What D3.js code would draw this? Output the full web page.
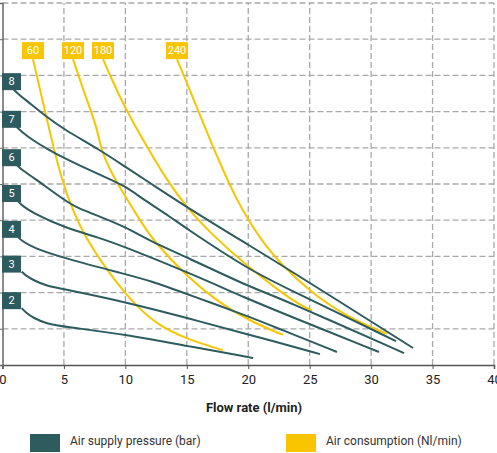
<!DOCTYPE html>
<html>
<head>
<meta charset="utf-8">
<script src="https://cdn.jsdelivr.net/npm/d3@7/dist/d3.min.js"></script>
<style>
  html, body { margin: 0; padding: 0; background: #fff; }
  svg { display: block; font-family: Roboto, "Liberation Sans", Arial, sans-serif; }
</style>
</head>
<body>
<svg id="chart" width="497" height="453"></svg>
<script>
// ---- Data ----
const xTicks = [0, 5, 10, 15, 20, 25, 30, 35, 40];
const yGrid = [1, 2, 3, 4, 5, 6, 7, 8, 9, 10];

const pressureLabels = ["2", "3", "4", "5", "6", "7", "8"];
const pressure2 = [[1.56,1.57],[1.9,1.45],[2.51,1.30],[3.6,1.14],[4.95,1.06],[10.38,0.83],[15.01,0.52],[20.14,0.22],[20.39,0.19]];
const pressure3 = [[1.56,2.58],[1.9,2.47],[2.48,2.35],[3.6,2.18],[4.92,2.10],[10.38,1.71],[15.01,1.30],[20.14,0.83],[22.58,0.61],[25.84,0.30]];
const pressure4 = [[1.26,3.54],[1.6,3.42],[2.51,3.24],[4.92,2.96],[9.97,2.51],[12.0,2.33],[15.01,1.96],[20.14,1.33],[22.58,0.99],[27.22,0.36]];
const pressure5 = [[1.26,4.53],[1.6,4.40],[2.48,4.2],[4.92,3.81],[7.93,3.51],[9.97,3.26],[15.01,2.57],[20.14,1.8],[22.58,1.46],[30.64,0.36]];
const pressure6 = [[1.18,5.52],[1.6,5.38],[2.48,5.19],[4.92,4.58],[6.06,4.34],[7.93,4.10],[9.97,3.82],[12.0,3.42],[14.99,2.98],[20.14,2.15],[22.58,1.85],[32.68,0.33]];
const pressure7 = [[1.15,6.58],[1.6,6.43],[2.51,6.20],[3.6,5.98],[4.95,5.72],[7.93,5.25],[9.97,4.95],[11.43,4.58],[13.63,4.1],[15.0,3.76],[20.14,2.62],[22.58,2.21],[32.02,0.66]];
const pressure8 = [[0.88,7.62],[1.3,7.48],[1.97,7.30],[3.6,6.85],[4.95,6.52],[7.93,5.94],[9.97,5.48],[12.0,5.03],[14.99,4.36],[20.14,3.29],[22.58,2.79],[33.41,0.47]];

const consumptionLabels = ["60", "120", "180", "240"];
const consumption60 = [[2.48,8.45],[3.05,7.62],[3.60,6.80],[4.27,5.85],[4.92,5.03],[5.74,4.25],[6.71,3.55],[8.50,2.62],[9.97,1.99],[10.95,1.62],[12.57,1.12],[14.98,0.72],[17.46,0.46],[17.94,0.41]];
const consumption120 = [[5.74,8.45],[6.71,7.46],[7.69,6.57],[8.02,5.94],[8.75,5.39],[9.81,4.75],[11.43,3.87],[12.25,3.45],[15.02,2.43],[17.70,1.71],[19.98,1.24],[22.83,0.83]];
const consumption180 = [[8.18,8.45],[8.91,7.88],[9.97,7.10],[11.76,6.02],[13.39,5.10],[15.02,4.34],[16.89,3.65],[19.98,2.71],[22.75,1.99],[24.21,1.66],[25.19,1.51]];
const consumption240 = [[14.20,8.45],[15.01,7.79],[15.83,7.10],[16.89,6.22],[17.94,5.39],[18.92,4.66],[20.14,3.92],[21.37,3.31],[22.58,2.82],[25.03,2.02],[28.04,1.33],[31.29,0.86]];

const pressureSeries = [pressure2, pressure3, pressure4, pressure5, pressure6, pressure7, pressure8];
const consumptionSeries = [consumption60, consumption120, consumption180, consumption240];

const xTitle = "Flow rate (l/min)";
const legendLabels = ["Air supply pressure (bar)", "Air consumption (Nl/min)"];

// ---- Style ----
const TEAL = "#2d5b5e";
const YELLOW = "#f8c500";
const GRID = "#a9a9a9";

const svg = d3.select("#chart");
const x = d3.scaleLinear().domain([0, 40]).range([2.5, 494]);
const y = d3.scaleLinear().domain([0, 10]).range([365, 3]);

// grid
const g = svg.append("g");
g.selectAll("line.h").data(yGrid).enter().append("line")
  .attr("x1", x(0)).attr("x2", x(40))
  .attr("y1", d => y(d)).attr("y2", d => y(d))
  .attr("stroke", GRID).attr("stroke-width", 1.3).attr("stroke-dasharray", "6,3");
g.selectAll("line.v").data(xTicks.filter(d => d > 0)).enter().append("line")
  .attr("x1", d => x(d)).attr("x2", d => x(d))
  .attr("y1", y(0)).attr("y2", y(10))
  .attr("stroke", GRID).attr("stroke-width", 1.3).attr("stroke-dasharray", "6,3");

// axes
const xAxis = svg.append("g").attr("transform", `translate(0,${y(0)})`)
  .call(d3.axisBottom(x).tickValues(xTicks).tickSize(4).tickPadding(6).tickFormat(d3.format("d")));
xAxis.select(".domain").attr("stroke", "#555").attr("stroke-width", 1.5);
xAxis.selectAll(".tick line").attr("stroke", "#555");
xAxis.selectAll(".tick text").attr("font-size", 13).attr("fill", "#222")
  .attr("font-family", "Roboto, 'Liberation Sans', Arial, sans-serif");

const yAxis = svg.append("g").attr("transform", `translate(${x(0)},0)`)
  .call(d3.axisLeft(y).tickValues(yGrid).tickSize(3).tickFormat(""));
yAxis.select(".domain").attr("stroke", "#666").attr("stroke-width", 1.5);
yAxis.selectAll(".tick line").attr("stroke", "#666");

// lines
const line = d3.line().x(d => x(d[0])).y(d => y(d[1])).curve(d3.curveBasis);

svg.append("g").selectAll("path").data(consumptionSeries).enter().append("path")
  .attr("d", line).attr("fill", "none").attr("stroke", YELLOW).attr("stroke-width", 2);

svg.append("g").selectAll("path").data(pressureSeries).enter().append("path")
  .attr("d", line).attr("fill", "none").attr("stroke", TEAL).attr("stroke-width", 2);

// pressure labels
const pl = svg.append("g").selectAll("g").data(pressureSeries).enter().append("g");
pl.append("rect")
  .attr("x", 2).attr("width", 19).attr("height", 17)
  .attr("y", d => y(d[0][1]) + 1 - 17)
  .attr("fill", TEAL);
pl.append("text")
  .attr("x", 11.5).attr("y", d => y(d[0][1]) + 1 - 8.5)
  .attr("text-anchor", "middle").attr("dominant-baseline", "central")
  .attr("fill", "#fff").attr("font-size", 11)
  .text((d, i) => pressureLabels[i]);

// consumption labels
const cl = svg.append("g").selectAll("g").data(consumptionSeries).enter().append("g");
cl.append("rect")
  .attr("x", d => x(d[0][0]) - 11).attr("width", 22).attr("height", 17)
  .attr("y", d => y(d[0][1]) - 17)
  .attr("fill", YELLOW);
cl.append("text")
  .attr("x", d => x(d[0][0])).attr("y", d => y(d[0][1]) - 8.5)
  .attr("text-anchor", "middle").attr("dominant-baseline", "central")
  .attr("fill", "#fff").attr("font-size", 11)
  .text((d, i) => consumptionLabels[i]);

// axis title
svg.append("text").attr("x", 254).attr("y", 407)
  .attr("text-anchor", "middle").attr("dominant-baseline", "central")
  .attr("font-size", 13).attr("font-weight", "bold").attr("fill", "#222")
  .text(xTitle);

// legend
const legendColors = [TEAL, YELLOW];
const legendX = [30, 286];
const lg = svg.append("g").selectAll("g").data(legendLabels).enter().append("g");
lg.append("rect").attr("x", (d, i) => legendX[i]).attr("y", 434)
  .attr("width", 30).attr("height", 18)
  .attr("fill", (d, i) => legendColors[i]);
lg.append("text").attr("x", (d, i) => legendX[i] + 40).attr("y", 441)
  .attr("dominant-baseline", "central").attr("font-size", 12).attr("fill", "#333")
  .text(d => d);
</script>
</body>
</html>
